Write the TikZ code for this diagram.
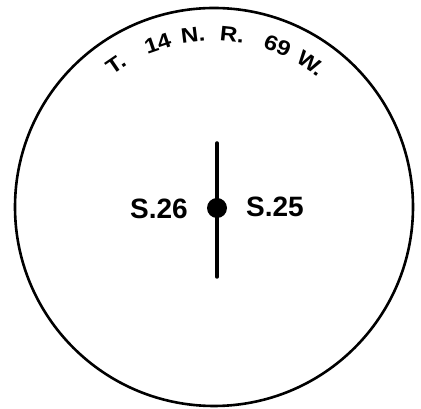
\documentclass[tikz,border=0pt]{standalone}
\usepackage{fontspec}
\setsansfont{Liberation Sans}
\usetikzlibrary{calc}
\tikzset{
  township/.style={draw=black, line width=2.6pt},
  secline/.style={draw=black, line width=3.5pt, line cap=round},
  corner/.style={circle, fill=black, minimum size=20pt, inner sep=0pt},
  seclabel/.style={font=\sffamily\bfseries\fontsize{28}{28}\selectfont, inner sep=0pt},
  twplabel/.style={font=\sffamily\bfseries\fontsize{21}{21}\selectfont, inner sep=0pt, anchor=base}
}

\begin{document}
\begin{tikzpicture}[x=1pt, y=1pt]
  \useasboundingbox[fill=white] (0,0) rectangle (421,409);
  \coordinate (c) at (214,202);
  \draw[township] (c) circle[radius=199];

  \coordinate (ntop) at (217,266);
  \coordinate (nbot) at (217,132);
  \draw[secline] (ntop) -- (nbot);
  \node[corner] (pt) at (217,201) {};

  \node[seclabel] (s26) at (159,200) {S.26};
  \node[seclabel] (s25) at (275,202) {S.25};

  % township and range along the rim
  \foreach \ang/\txt [count=\i] in {124.5/T., 109/14, 97/N., 84/R., 68.5/69, 56/W.}
    \node[twplabel, rotate=\ang-90, xscale=1.15] (twp\i) at ($(c)+(\ang:166)$) {\txt};
\end{tikzpicture}
\end{document}
